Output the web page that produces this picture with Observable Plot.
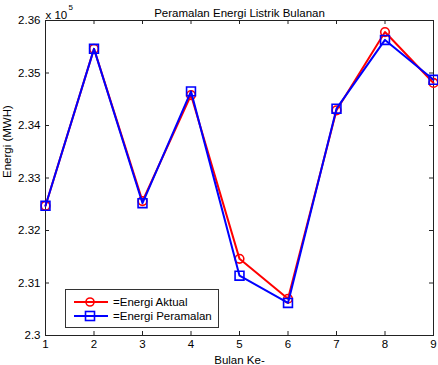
<!DOCTYPE html>
<html>
<head>
<meta charset="utf-8">
<script src="https://cdn.jsdelivr.net/npm/d3@7"></script>
<script src="https://cdn.jsdelivr.net/npm/@observablehq/plot@0.6"></script>
<style>
  html, body { margin: 0; padding: 0; background: #fff; }
  #wrap { position: relative; width: 438px; height: 365px; font-family: "Liberation Sans", Arial, sans-serif; }
  #legend { position: absolute; left: 65px; top: 289px; width: 152px; height: 37px; border: 1px solid #333; background: #fff; font-size: 11.5px; }
  .row { position: absolute; left: 7px; height: 14px; display: flex; align-items: center; }
  .row svg { margin-right: 4px; }
</style>
</head>
<body>
<div id="wrap"></div>
<script>
const months = [1, 2, 3, 4, 5, 6, 7, 8, 9];
const aktual = [232470, 235460, 232560, 234580, 231460, 230700, 234290, 235780, 234810];
const peramalan = [232470, 235460, 232520, 234650, 231140, 230620, 234320, 235630, 234870];
const xTicks = [1, 2, 3, 4, 5, 6, 7, 8, 9];
const yTicks = [230000, 231000, 232000, 233000, 234000, 235000, 236000];
const yTickLabels = ["2.3", "2.31", "2.32", "2.33", "2.34", "2.35", "2.36"];
const seriesNames = ["=Energi Aktual", "=Energi Peramalan"];
const seriesColors = ["#ff0000", "#0000ff"];

const dataA = months.map((m, i) => ({x: m, y: aktual[i]}));
const dataP = months.map((m, i) => ({x: m, y: peramalan[i]}));

const W = 438, H = 365, mL = 45, mR = 5, mT = 20, mB = 30;
const fw = W - mL - mR, fh = H - mT - mB, tl = 4;

const chart = Plot.plot({
  width: W, height: H,
  marginLeft: mL, marginRight: mR, marginTop: mT, marginBottom: mB,
  style: {fontFamily: "Liberation Sans, Arial, sans-serif", fontSize: "11.5px", background: "#fff", color: "#000"},
  x: {domain: [1, 9]},
  y: {domain: [230000, 236000]},
  marks: [
    Plot.axisX(xTicks, {tickSize: 0, tickPadding: 4, label: null, tickFormat: d => String(d)}),
    Plot.axisY(yTicks, {tickSize: 0, tickPadding: 5, label: null, tickFormat: d => yTickLabels[yTicks.indexOf(d)]}),
    Plot.tickX(xTicks, {x: d => d, insetTop: fh - tl, stroke: "#222"}),
    Plot.tickX(xTicks, {x: d => d, insetBottom: fh - tl, stroke: "#222"}),
    Plot.tickY(yTicks, {y: d => d, insetRight: fw - tl, stroke: "#222"}),
    Plot.tickY(yTicks, {y: d => d, insetLeft: fw - tl, stroke: "#222"}),
    Plot.frame({stroke: "#222"}),
    Plot.line(dataA, {x: "x", y: "y", stroke: seriesColors[0], strokeWidth: 2}),
    Plot.dot(dataA, {x: "x", y: "y", symbol: "circle", r: 4.3, stroke: seriesColors[0], strokeWidth: 1.6, fill: "none"}),
    Plot.line(dataP, {x: "x", y: "y", stroke: seriesColors[1], strokeWidth: 2}),
    Plot.dot(dataP, {x: "x", y: "y", symbol: "square", r: 5, stroke: seriesColors[1], strokeWidth: 1.6, fill: "none"}),
    Plot.text(["Peramalan Energi Listrik Bulanan"], {frameAnchor: "top", dy: -12, fontSize: 11.5}),
    Plot.text(["x 10"], {frameAnchor: "top-left", textAnchor: "start", dy: -10, dx: 0, fontSize: 11.5}),
    Plot.text(["5"], {frameAnchor: "top-left", textAnchor: "start", dy: -16, dx: 23, fontSize: 8}),
    Plot.text(["Energi (MWH)"], {frameAnchor: "left", rotate: -90, dx: -38, fontSize: 11.5}),
    Plot.text(["Bulan Ke-"], {frameAnchor: "bottom", dy: 25, lineAnchor: "middle", fontSize: 11.5})
  ]
});

const wrap = document.getElementById("wrap");
wrap.appendChild(chart);

const legend = document.createElement("div");
legend.id = "legend";
seriesNames.forEach((name, i) => {
  const row = document.createElement("div");
  row.className = "row";
  row.style.top = (i === 0 ? 5 : 19) + "px";
  const sym = i === 0
    ? `<circle cx="17" cy="7" r="4" fill="none" stroke="${seriesColors[i]}" stroke-width="1.6"/>`
    : `<rect x="12.5" y="2.5" width="9" height="9" fill="none" stroke="${seriesColors[i]}" stroke-width="1.6"/>`;
  row.innerHTML = `<svg width="36" height="14"><line x1="1" y1="7" x2="35" y2="7" stroke="${seriesColors[i]}" stroke-width="2"/>${sym}</svg><span>${name}</span>`;
  legend.appendChild(row);
});
wrap.appendChild(legend);
</script>
</body>
</html>
